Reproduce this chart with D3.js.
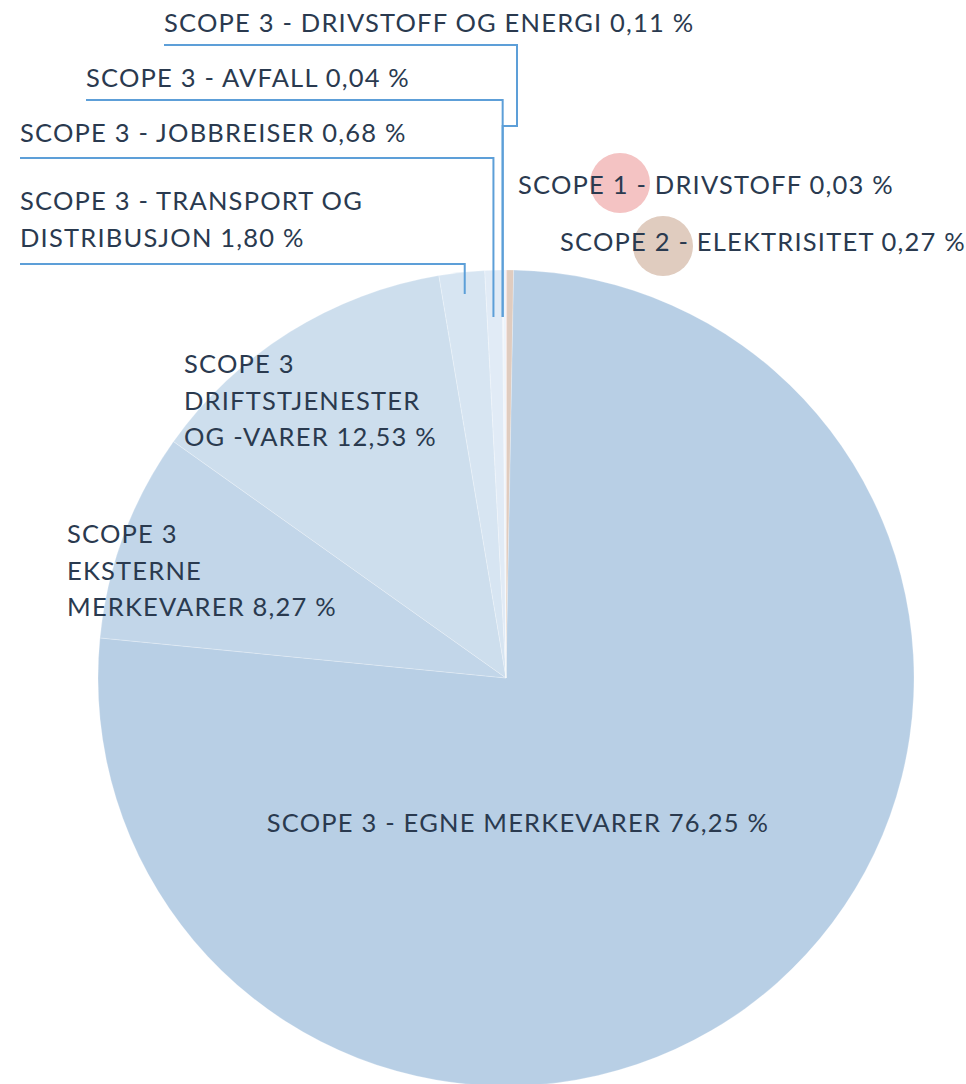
<!DOCTYPE html>
<html>
<head>
<meta charset="utf-8">
<script src="https://cdn.jsdelivr.net/npm/d3@7"></script>
<style>
  html, body { margin: 0; padding: 0; background: #ffffff; }
  svg { display: block; }
  text { font-family: Lato, "Open Sans", sans-serif; font-weight: 400; fill: #2a3a4f; letter-spacing: 1.2px; }
</style>
</head>
<body>
<svg id="chart" width="966" height="1084"></svg>
<script>
// Emission shares by scope, listed clockwise from 12 o'clock
const categories = [
  "SCOPE 1 - DRIVSTOFF",
  "SCOPE 2 - ELEKTRISITET",
  "SCOPE 3 - EGNE MERKEVARER",
  "SCOPE 3 EKSTERNE MERKEVARER",
  "SCOPE 3 DRIFTSTJENESTER OG -VARER",
  "SCOPE 3 - TRANSPORT OG DISTRIBUSJON",
  "SCOPE 3 - JOBBREISER",
  "SCOPE 3 - AVFALL",
  "SCOPE 3 - DRIVSTOFF OG ENERGI"
];
const values = [0.03, 0.27, 76.25, 8.27, 12.53, 1.80, 0.68, 0.04, 0.11];
const colors = ["#f4c3c3", "#e0ccbf", "#b8cfe5", "#c2d6e9", "#cddeed", "#d7e5f2", "#e1ebf6", "#e9f0f8", "#edf3fa"];

// Label lines for each slice
const labelLines = [
  ["SCOPE 1 - DRIVSTOFF 0,03 %"],
  ["SCOPE 2 - ELEKTRISITET 0,27 %"],
  ["SCOPE 3 - EGNE MERKEVARER 76,25 %"],
  ["SCOPE 3", "EKSTERNE", "MERKEVARER 8,27 %"],
  ["SCOPE 3", "DRIFTSTJENESTER", "OG -VARER 12,53 %"],
  ["SCOPE 3 - TRANSPORT OG", "DISTRIBUSJON 1,80 %"],
  ["SCOPE 3 - JOBBREISER 0,68 %"],
  ["SCOPE 3 - AVFALL 0,04 %"],
  ["SCOPE 3 - DRIVSTOFF OG ENERGI 0,11 %"]
];

const cx = 506, cy = 678, R = 408;
const fontSize = 25.5, lineGap = 36.5;

const svg = d3.select("#chart");
const data = categories.map((c, i) => ({ name: c, value: values[i], color: colors[i], lines: labelLines[i], i }));

const pie = d3.pie().value(d => d.value).sort(null).startAngle(0).endAngle(2 * Math.PI);
const arcs = pie(data);
const arc = d3.arc().innerRadius(0).outerRadius(R);

const g = svg.append("g").attr("transform", `translate(${cx},${cy})`);
g.selectAll("path.slice")
  .data(arcs)
  .enter().append("path")
  .attr("class", "slice")
  .attr("d", arc)
  .attr("fill", d => d.data.color)
  .attr("stroke", "#ffffff")
  .attr("stroke-opacity", 0.3)
  .attr("stroke-width", 0.8);

// x position on the rim at the middle angle of a slice
const rimX = a => cx + R * Math.sin((a.startAngle + a.endAngle) / 2);

// Leader-line layout for the thin slices at the top left
const leaders = [
  { idx: 5, textX: 20,  textY: 210, lineY: 264, endY: 294, dx: 3 },
  { idx: 6, textX: 20,  textY: 142, lineY: 158, endY: 317, dx: 0 },
  { idx: 7, textX: 86,  textY: 87,  lineY: 100, endY: 317, dx: 0 },
  { idx: 8, textX: 164, textY: 32,  lineY: 45,  endY: 317, jogX: 517, jogY: 126, joinIdx: 7 }
];

const lineColor = "#5d9fd8";
leaders.forEach(L => {
  const a = arcs[L.idx];
  let pts;
  if (L.jogX !== undefined) {
    const jx = rimX(arcs[L.joinIdx]);
    pts = [[L.textX, L.lineY], [L.jogX, L.lineY], [L.jogX, L.jogY], [jx, L.jogY], [jx, L.endY]];
  } else {
    const x = rimX(a) + L.dx;
    pts = [[L.textX, L.lineY], [x, L.lineY], [x, L.endY]];
  }
  svg.append("path")
    .attr("d", d3.line()(pts))
    .attr("fill", "none")
    .attr("stroke", lineColor)
    .attr("stroke-width", 2);

  const t = svg.append("text")
    .attr("x", L.textX).attr("y", L.textY)
    .attr("font-size", fontSize);
  a.data.lines.forEach((ln, k) => {
    t.append("tspan").attr("x", L.textX).attr("dy", k === 0 ? 0 : lineGap).text(ln);
  });
});

// Scope 1 and 2 labels with round colour markers behind the text
const markers = [
  { idx: 0, cxm: 620, cym: 183, r: 30, textX: 518, textY: 194 },
  { idx: 1, cxm: 663, cym: 246, r: 30, textX: 560, textY: 251 }
];
markers.forEach(m => {
  svg.append("circle")
    .attr("cx", m.cxm).attr("cy", m.cym).attr("r", m.r)
    .attr("fill", arcs[m.idx].data.color);
});
markers.forEach(m => {
  svg.append("text")
    .attr("x", m.textX).attr("y", m.textY)
    .attr("font-size", fontSize)
    .text(arcs[m.idx].data.lines[0]);
});

// Labels sitting inside the large slices
const inside = [
  { idx: 2, x: 518, y: 832, anchor: "middle" },
  { idx: 3, x: 67,  y: 543, anchor: "start" },
  { idx: 4, x: 184, y: 373, anchor: "start" }
];
inside.forEach(p => {
  const t = svg.append("text")
    .attr("x", p.x).attr("y", p.y)
    .attr("text-anchor", p.anchor)
    .attr("font-size", fontSize);
  arcs[p.idx].data.lines.forEach((ln, k) => {
    t.append("tspan").attr("x", p.x).attr("dy", k === 0 ? 0 : lineGap).text(ln);
  });
});
</script>
</body>
</html>
